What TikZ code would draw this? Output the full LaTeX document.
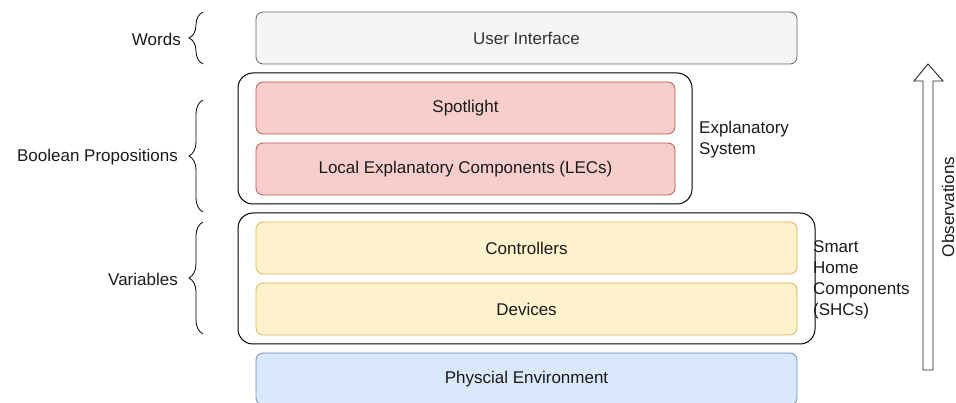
\documentclass[tikz,border=0pt]{standalone}
\usepackage{fontspec}
\setmainfont{Liberation Sans}
\usetikzlibrary{decorations.pathreplacing}
\definecolor{uifill}{HTML}{F5F5F5}
\definecolor{uidraw}{HTML}{666666}
\definecolor{uitext}{HTML}{333333}
\definecolor{redfill}{HTML}{F8CECC}
\definecolor{reddraw}{HTML}{B85450}
\definecolor{yelfill}{HTML}{FFF2CC}
\definecolor{yeldraw}{HTML}{D6B656}
\definecolor{bluefill}{HTML}{DAE8FC}
\definecolor{bluedraw}{HTML}{6C8EBF}
\definecolor{txt}{HTML}{1A1A1A}
\begin{document}
\begin{tikzpicture}[x=1pt,y=-1pt,
  every node/.style={font=\fontsize{17}{21}\selectfont, text=txt},
  layer/.style={draw, rounded corners=7pt, line width=0.8pt, inner sep=0pt, minimum height=52pt},
  wide/.style={layer, minimum width=541pt},
  narrow/.style={layer, minimum width=419pt},
  container/.style={draw=black, rounded corners=15pt, line width=1pt, inner sep=0pt},
  sidelabel/.style={align=left, anchor=west, inner sep=0pt},
  leftlabel/.style={anchor=east, inner sep=0pt},
  bracestyle/.style={decorate, decoration={brace, amplitude=14pt, aspect=0.5}, line width=0.8pt, draw=black}
]
\useasboundingbox (0,0) rectangle (956,403);
% containers
\node[container, minimum width=454pt, minimum height=131pt] (esys) at (465,138.5) {};
\node[container, minimum width=577pt, minimum height=131pt] (shc) at (526.5,278.5) {};
% layers
\node[wide, fill=uifill, draw=uidraw, text=uitext] (ui) at (526.5,38) {User Interface};
\node[narrow, fill=redfill, draw=reddraw] (spot) at (465.5,108) {Spotlight};
\node[narrow, fill=redfill, draw=reddraw] (lec) at (465.5,169) {Local Explanatory Components (LECs)};
\node[wide, fill=yelfill, draw=yeldraw] (ctrl) at (526.5,248) {Controllers};
\node[wide, fill=yelfill, draw=yeldraw] (dev) at (526.5,309) {Devices};
\node[wide, fill=bluefill, draw=bluedraw] (env) at (526.5,379) {Physcial Environment};
% side labels
\node[sidelabel] (esyslbl) at (699,140) {Explanatory\\System};
\node[sidelabel] (shclbl) at (813,280) {Smart\\Home\\Components\\(SHCs)};
% left labels
\node[leftlabel] (words) at (181,39) {Words};
\node[leftlabel] (bool) at (178,157) {Boolean Propositions};
\node[leftlabel] (vars) at (178,279) {Variables};
% braces
\coordinate (wb1) at (203,64); \coordinate (wb2) at (203,12);
\coordinate (bb1) at (203,212); \coordinate (bb2) at (203,100);
\coordinate (vb1) at (203,334); \coordinate (vb2) at (203,222);
\draw[bracestyle] (wb1) -- (wb2);
\draw[bracestyle] (bb1) -- (bb2);
\draw[bracestyle] (vb1) -- (vb2);
% observations arrow
\draw[line width=0.9pt, draw=black!85, fill=white]
  (923,370) -- (923,81) -- (914,81) -- (928,64) -- (943,81) -- (933,81) -- (933,370) -- cycle;
\node[rotate=90, inner sep=0pt] (obs) at (948,207) {Observations};
\end{tikzpicture}
\end{document}
